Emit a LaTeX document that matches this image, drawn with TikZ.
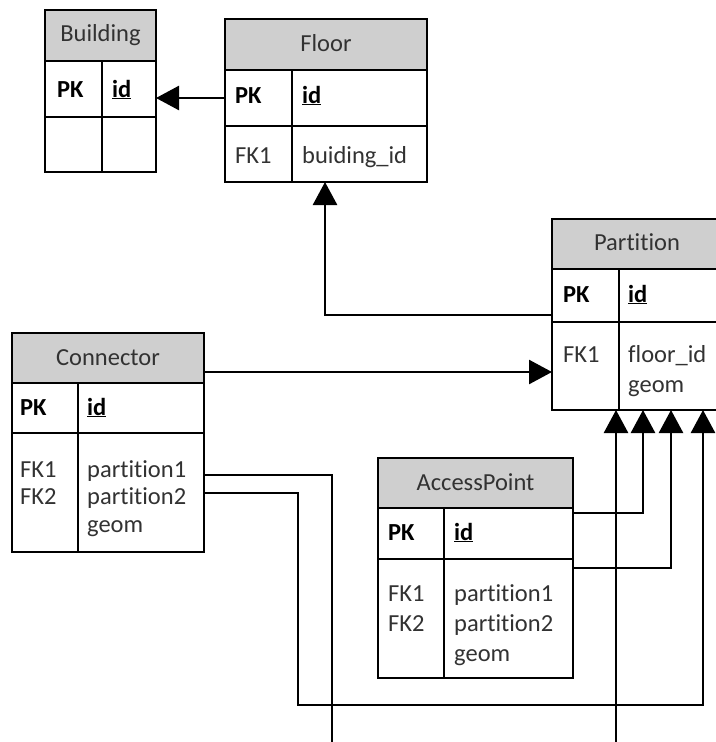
\documentclass[tikz,border=0pt]{standalone}
\usepackage{fontspec}
\setmainfont{Carlito}[Ligatures=NoCommon]
\usetikzlibrary{arrows.meta}
\definecolor{hdrgray}{RGB}{207,207,207}
\definecolor{txtgray}{RGB}{50,50,50}
\tikzset{
  x=1bp, y=-1bp,
  cell/.style={draw, line width=1.8bp, inner sep=0pt, outer sep=0pt, anchor=north west},
  hdrcell/.style={cell, fill=hdrgray},
  hdrtxt/.style={anchor=base, inner sep=0pt, text=txtgray, font=\fontsize{24.5bp}{29bp}\selectfont},
  keytxt/.style={anchor=base west, inner sep=0pt, text=black, font=\fontsize{24.5bp}{29bp}\selectfont\bfseries},
  fldtxt/.style={anchor=base west, inner sep=0pt, text=txtgray, font=\fontsize{24.5bp}{29bp}\selectfont},
  conn/.style={line width=2.6bp, line join=miter},
  arr/.style={-{Triangle[length=23bp,width=24bp]}},
}
% one entity table: name, x-left, x-divider, x-right, y-top, y-header, y-key row, y-bottom
\newcommand\ertable[8]{%
  \node[hdrcell, minimum width={(#4-#2)*1bp}, minimum height={(#6-#5)*1bp}] (#1-h) at (#2,#5) {};
  \node[cell, minimum width={(#3-#2)*1bp}, minimum height={(#7-#6)*1bp}] (#1-pk) at (#2,#6) {};
  \node[cell, minimum width={(#4-#3)*1bp}, minimum height={(#7-#6)*1bp}] (#1-pkv) at (#3,#6) {};
  \node[cell, minimum width={(#3-#2)*1bp}, minimum height={(#8-#7)*1bp}] (#1-fk) at (#2,#7) {};
  \node[cell, minimum width={(#4-#3)*1bp}, minimum height={(#8-#7)*1bp}] (#1-fkv) at (#3,#7) {};
}
\newcommand\ulid{\underline{id}}
\begin{document}
\begin{tikzpicture}
\useasboundingbox (0,0) rectangle (716,742);
\clip (0,0) rectangle (716,742);
\fill[white] (0,0) rectangle (716,742);

% tables
\ertable{bld}{45}{102}{156}{10}{61}{117}{172}
\ertable{flr}{225}{292}{427}{19}{70}{126}{182}
\ertable{part}{552}{619}{722}{219}{269}{322}{410}
\ertable{con}{12}{78}{204}{333}{383}{433}{552}
\ertable{ap}{378}{444}{573}{458}{508}{559}{678}

% Building
\node[hdrtxt] (bld-t) at (100.5,42) {Building};
\node[keytxt] (bld-k) at (57,97) {PK};
\node[keytxt] (bld-i) at (112,97) {\ulid};

% Floor
\node[hdrtxt] (flr-t) at (326,52) {Floor};
\node[keytxt] (flr-k) at (235,103) {PK};
\node[keytxt] (flr-i) at (302,103) {\ulid};
\node[fldtxt] (flr-f1) at (235,163) {FK1};
\node[fldtxt] (flr-f1v) at (302,163) {buiding\_id};

% Partition
\node[hdrtxt] (part-t) at (637,250) {Partition};
\node[keytxt] (part-k) at (563,302) {PK};
\node[keytxt] (part-i) at (628,302) {\ulid};
\node[fldtxt] (part-f1) at (563,362) {FK1};
\node[fldtxt] (part-f1v) at (628,362) {floor\_id};
\node[fldtxt] (part-g) at (628,392) {geom};

% Connector
\node[hdrtxt] (con-t) at (108,365) {Connector};
\node[keytxt] (con-k) at (20,415) {PK};
\node[keytxt] (con-i) at (87,415) {\ulid};
\node[fldtxt] (con-f1) at (20,477) {FK1};
\node[fldtxt] (con-f2) at (20,504) {FK2};
\node[fldtxt] (con-f1v) at (87,477) {partition1};
\node[fldtxt] (con-f2v) at (87,504) {partition2};
\node[fldtxt] (con-g) at (87,532) {geom};

% AccessPoint
\node[hdrtxt] (ap-t) at (475.5,490) {AccessPoint};
\node[keytxt] (ap-k) at (388,540) {PK};
\node[keytxt] (ap-i) at (454,540) {\ulid};
\node[fldtxt] (ap-f1) at (388,601) {FK1};
\node[fldtxt] (ap-f2) at (388,631) {FK2};
\node[fldtxt] (ap-f1v) at (454,601) {partition1};
\node[fldtxt] (ap-f2v) at (454,631) {partition2};
\node[fldtxt] (ap-g) at (454,661) {geom};

% routing corners
\coordinate (c1low) at (332,743.0);
\coordinate (c2low) at (298,705);

% relationships
\draw[conn,arr] (flr-pk.west) -- (flr-pk.west -| bld-pkv.east);
\draw[conn,arr] ([yshift=7bp]part-pk.south west) -| ([xshift=33bp]flr-fkv.south west);
\draw[conn,arr] ([yshift=-14bp]con-h.east) -- ([yshift=-14bp]con-h.east -| part-fk.west);
\draw[conn,arr] ([yshift=17.5bp]con-fkv.east) -| (c1low) -| ([xshift=-3bp]part-fk.south east);
\draw[conn,arr] ([yshift=-0.5bp]con-fkv.east) -| (c2low) -| ([xshift=84bp]part-fk.south east);
\draw[conn,arr] ([yshift=20.5bp]ap-pkv.east) -| ([xshift=24bp]part-fk.south east);
\draw[conn,arr] ([yshift=-9bp]ap-fkv.north east) -| ([xshift=52bp]part-fk.south east);
\end{tikzpicture}
\end{document}
